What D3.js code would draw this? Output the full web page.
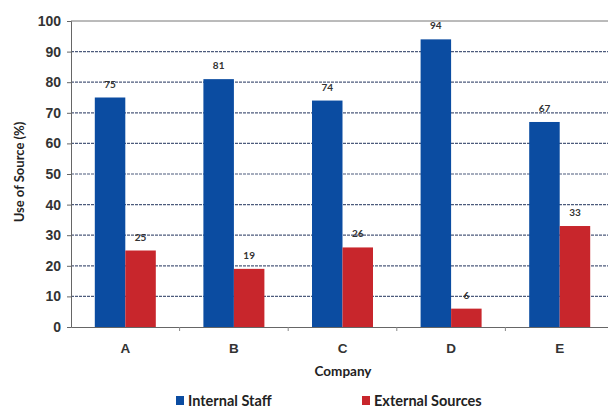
<!DOCTYPE html>
<html lang="en">
  <head>
    <meta charset="UTF-8" />
    <title>Use of Source by Company</title>
    <script src="https://d3js.org/d3.v7.min.js"></script>
    <style>
      body { margin: 0; background: #fff; }
      svg { display: block; font-family: Lato, "Open Sans", sans-serif; }
      .tick text { font-weight: bold; fill: #333; }
    </style>
  </head>
  <body>
    <svg width="608" height="407"></svg>
    <script>
      const companies = ["A", "B", "C", "D", "E"];
      const internalStaff = [75, 81, 74, 94, 67];
      const externalSources = [25, 19, 26, 6, 33];
      const seriesNames = ["Internal Staff", "External Sources"];
      const seriesColors = ["#0b4ca1", "#c8262c"];
      const yTicks = [0, 10, 20, 30, 40, 50, 60, 70, 80, 90, 100];

      const svg = d3.select("svg");
      const plotLeft = 71, plotTop = 21, plotBottom = 327, plotRight = 614;

      const x = d3.scaleBand().domain(companies).range([plotLeft, plotRight]);
      const y = d3.scaleLinear().domain([0, 100]).range([plotBottom, plotTop]);

      // grid lines
      svg.append("g")
        .selectAll("line")
        .data(yTicks.slice(1))
        .join("line")
        .attr("x1", plotLeft)
        .attr("x2", 608)
        .attr("y1", d => y(d))
        .attr("y2", d => y(d))
        .attr("stroke", d => d === 100 ? "#777" : "#4d5b7c")
        .attr("stroke-width", d => d === 100 ? 1 : 1.2)
        .attr("stroke-dasharray", d => d === 100 ? null : "3,1");

      // y axis
      const yAxis = svg.append("g")
        .attr("transform", `translate(${plotLeft},0)`)
        .call(d3.axisLeft(y).tickValues(yTicks).tickSize(4).tickPadding(6));
      yAxis.select(".domain").attr("stroke", "#666");
      yAxis.selectAll(".tick line").attr("stroke", "#666");
      yAxis.selectAll(".tick text").attr("font-size", 14);

      // bars
      const series = [internalStaff, externalSources];
      const barW = 30.5;
      series.forEach((vals, s) => {
        svg.append("g")
          .selectAll("rect")
          .data(companies)
          .join("rect")
          .attr("x", d => x(d) + x.bandwidth() / 2 - barW + s * barW)
          .attr("y", (d, i) => y(vals[i]))
          .attr("width", barW)
          .attr("height", (d, i) => plotBottom - y(vals[i]))
          .attr("fill", seriesColors[s]);

        svg.append("g")
          .selectAll("text")
          .data(companies)
          .join("text")
          .attr("x", d => x(d) + x.bandwidth() / 2 - barW / 2 + s * barW)
          .attr("y", (d, i) => y(vals[i]) - 10)
          .attr("text-anchor", "middle")
          .attr("font-size", 10)
          .attr("font-weight", "bold")
          .attr("fill", "#333")
          .text((d, i) => vals[i]);
      });

      // x axis
      const xAxis = svg.append("g")
        .attr("transform", `translate(0,${plotBottom})`)
        .call(d3.axisBottom(x).tickSize(0).tickPadding(16));
      xAxis.select(".domain").attr("stroke", "#666");
      xAxis.selectAll(".tick text").attr("font-size", 13.5);
      svg.append("g")
        .selectAll("line")
        .data(companies.slice(1))
        .join("line")
        .attr("x1", d => x(d))
        .attr("x2", d => x(d))
        .attr("y1", plotBottom)
        .attr("y2", plotBottom + 4)
        .attr("stroke", "#888");

      // axis titles
      svg.append("text")
        .attr("x", 343)
        .attr("y", 376)
        .attr("text-anchor", "middle")
        .attr("font-size", 13.5)
        .attr("font-weight", "bold")
        .attr("fill", "#222")
        .text("Company");

      svg.append("text")
        .attr("transform", "translate(24,172) rotate(-90)")
        .attr("text-anchor", "middle")
        .attr("font-size", 13)
        .attr("font-weight", "bold")
        .attr("fill", "#222")
        .text("Use of Source (%)");

      // legend
      const legendX = [176, 362];
      const legend = svg.append("g")
        .selectAll("g")
        .data(seriesNames)
        .join("g")
        .attr("transform", (d, i) => `translate(${legendX[i]},396)`);
      legend.append("rect")
        .attr("width", 8)
        .attr("height", 9)
        .attr("fill", (d, i) => seriesColors[i]);
      legend.append("text")
        .attr("x", 12)
        .attr("y", 9.5)
        .attr("font-size", 14.5)
        .attr("font-weight", "bold")
        .attr("fill", "#222")
        .text(d => d);
    </script>
  </body>
</html>
